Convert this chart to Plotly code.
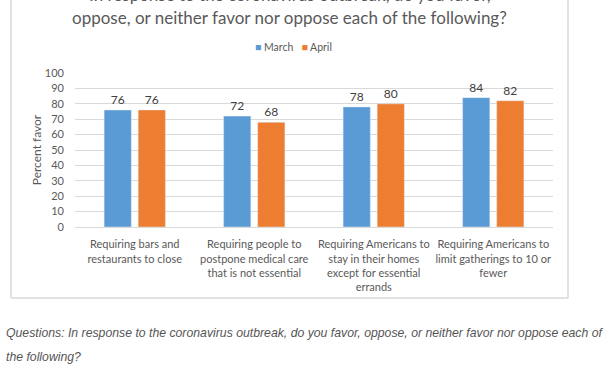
import plotly.graph_objects as go

categories = [
    "Requiring bars and<br>restaurants to close",
    "Requiring people to<br>postpone medical care<br>that is not essential",
    "Requiring Americans to<br>stay in their homes<br>except for essential<br>errands",
    "Requiring Americans to<br>limit gatherings to 10 or<br>fewer",
]
march = [76, 72, 78, 84]
april = [76, 68, 80, 82]
series_names = ["March", "April"]
colors = ["#5B9BD5", "#ED7D31"]
y_ticks = list(range(0, 101, 10))

W, H = 612, 374
L, R, T, B = 75, 59, 73, 147
pw, ph = W - L - R, H - T - B

def px_x(px):
    return (px - L) / pw

def px_y(py):
    return (H - B - py) / ph

FONT = "Lato"
GRAY = "#595959"

fig = go.Figure()
for name, vals, col in zip(series_names, [march, april], colors):
    fig.add_trace(go.Bar(x=categories, y=vals, name=name, marker_color=col,
                         text=[f"{v}" for v in vals], textposition="outside", cliponaxis=False,
                         textfont=dict(family=FONT, size=12, color="#404040")))

fig.update_layout(
    width=W, height=H,
    margin=dict(l=L, r=R, t=T, b=B, autoexpand=False),
    paper_bgcolor="white", plot_bgcolor="white",
    barmode="group", bargap=0.43, bargroupgap=0.2,
    font=dict(family=FONT, color=GRAY, size=11),
    showlegend=False,
)
fig.update_yaxes(range=[0, 100], tickvals=y_ticks, showgrid=True, gridcolor="#d9d9d9",
                 zeroline=False, showline=False, ticks="", ticklabelstandoff=10,
                 tickfont=dict(family=FONT, size=11, color=GRAY),
                 title=dict(text="Percent favor", font=dict(family=FONT, size=12, color=GRAY), standoff=0))
fig.update_xaxes(showline=True, linecolor="#d9d9d9", linewidth=1, ticks="",
                 tickfont=dict(family=FONT, size=11, color=GRAY), ticklabelstandoff=7)

# chart frame (top cut off)
for x0, y0, x1, y1 in [(11, -5, 11, 298), (568, -5, 568, 298), (11, 298, 568, 298)]:
    fig.add_shape(type="line", xref="paper", yref="paper",
                  x0=px_x(x0), y0=px_y(y0), x1=px_x(x1), y1=px_y(y1),
                  line=dict(color="#d9d9d9", width=1.5))

# legend
legend_text = "   ".join(
    f"<span style='color:{c}'>■</span> {n}" for n, c in zip(series_names, colors))
fig.add_annotation(text=legend_text, xref="paper", yref="paper", x=px_x(293), y=px_y(47),
                   xanchor="center", yanchor="middle", showarrow=False,
                   font=dict(family=FONT, size=10.5, color=GRAY))

# title (first line cut off by page edge)
fig.add_annotation(text="In response to the coronavirus outbreak, do you favor,",
                   xref="paper", yref="paper", x=px_x(289.5), y=px_y(-6), xanchor="center", yanchor="middle",
                   showarrow=False, font=dict(family=FONT, size=17, color=GRAY))
fig.add_annotation(text="oppose, or neither favor nor oppose each of the following?",
                   xref="paper", yref="paper", x=px_x(289.5), y=px_y(18), xanchor="center", yanchor="middle",
                   showarrow=False, font=dict(family=FONT, size=17, color=GRAY))

# caption
cap_font = dict(family="Liberation Sans", size=12.25, color="#555555")
fig.add_annotation(text="<i>Questions: In response to the coronavirus outbreak, do you favor, oppose, or neither favor nor oppose each of</i>",
                   xref="paper", yref="paper", x=px_x(4), y=px_y(333), xanchor="left", yanchor="middle",
                   showarrow=False, font=cap_font)
fig.add_annotation(text="<i>the following?</i>",
                   xref="paper", yref="paper", x=px_x(4), y=px_y(357), xanchor="left", yanchor="middle",
                   showarrow=False, font=cap_font)

fig.write_html("out.html", config={"displayModeBar": False},
               post_script="document.body.style.margin='0';document.body.style.overflow='hidden';")
